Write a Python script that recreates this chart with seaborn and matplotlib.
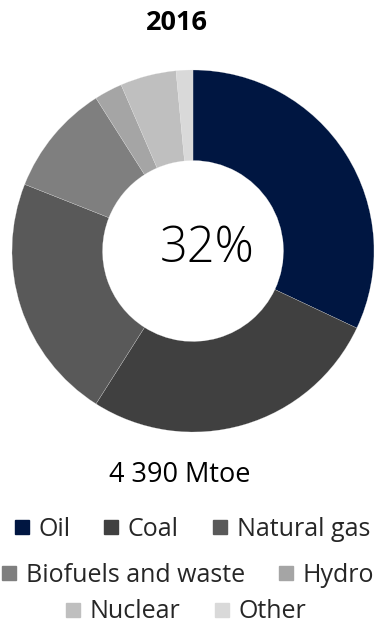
import matplotlib
matplotlib.use("Agg")
import matplotlib.pyplot as plt
from matplotlib.lines import Line2D
import seaborn as sns

categories = ["Oil", "Coal", "Natural gas", "Biofuels and waste", "Hydro", "Nuclear", "Other"]
shares = [32, 27, 22, 10, 2.5, 5, 1.5]
colors = ["#001641", "#404040", "#595959", "#7f7f7f", "#a5a5a5", "#bfbfbf", "#d9d9d9"]
title = "2016"
center_label = "32%"
total_label = "4 390 Mtoe"
legend_rows = [[0, 1, 2], [3, 4], [5, 6]]

sns.set_theme(style="white")
plt.rcParams["font.family"] = ["Open Sans", "DejaVu Sans"]

W, H = 377, 625
fig = plt.figure(figsize=(W / 100, H / 100), dpi=100)
cx, cy, r = 193, 251, 181
ax = fig.add_axes([(cx - r) / W, (H - cy - r) / H, 2 * r / W, 2 * r / H])
ax.pie(shares, colors=colors, startangle=90, counterclock=False, radius=1,
       wedgeprops=dict(width=0.5, edgecolor="#e6e6e6", linewidth=0.15))
ax.set_xlim(-1, 1)
ax.set_ylim(-1, 1)
ax.set_aspect("equal")
ax.axis("off")

fig.text(176.5 / W, 1 - 23 / H, title, ha="center", va="center", fontsize=19.5, fontweight="bold", color="#000000")
fig.text(207 / W, 1 - 249 / H, center_label, ha="center", va="center", fontsize=35, fontweight="light", color="#000000")
fig.text(180 / W, 1 - 475 / H, total_label, ha="center", va="center", fontsize=19.5, color="#000000")

row_pos = [(192, 529), (188, 575), (186, 612)]
for row, (x, y) in zip(legend_rows, row_pos):
    handles = [Line2D([0], [0], marker="s", linestyle="none", markersize=10,
                      markerfacecolor=colors[i], markeredgecolor=colors[i]) for i in row]
    labels = [categories[i] for i in row]
    fig.legend(handles, labels, loc="center", bbox_to_anchor=(x / W, 1 - y / H),
               ncol=len(row), frameon=False, fontsize=18, handlelength=0.6,
               handletextpad=0.36, columnspacing=1.35, borderpad=0, borderaxespad=0)

fig.savefig("out.png", dpi=100, facecolor="white")
